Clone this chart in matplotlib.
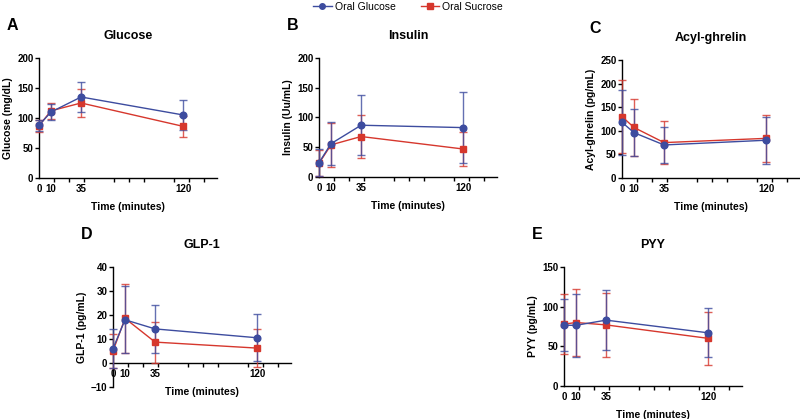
import matplotlib
matplotlib.use("Agg")
import matplotlib.pyplot as plt
from matplotlib.lines import Line2D

plt.rcParams['font.family'] = ['Liberation Sans', 'DejaVu Sans']

time = [0, 10, 35, 120]
tick_labels = ['0', '10', '35', '120']

# mean and SD per panel: (glucose drink, sucrose drink)
glucose_oral_glucose = [88, 110, 135, 105]
glucose_oral_glucose_sd = [9, 13, 25, 25]
glucose_oral_sucrose = [87, 112, 125, 86]
glucose_oral_sucrose_sd = [10, 13, 23, 18]

insulin_oral_glucose = [24, 56, 87, 83]
insulin_oral_glucose_sd = [23, 36, 50, 59]
insulin_oral_sucrose = [23, 54, 68, 47]
insulin_oral_sucrose_sd = [22, 37, 36, 28]

ghrelin_oral_glucose = [118, 96, 70, 80]
ghrelin_oral_glucose_sd = [69, 50, 38, 50]
ghrelin_oral_sucrose = [130, 107, 75, 84]
ghrelin_oral_sucrose_sd = [77, 60, 46, 50]

glp1_oral_glucose = [6, 18, 14.2, 10.5]
glp1_oral_glucose_sd = [8, 14, 10, 9.8]
glp1_oral_sucrose = [5, 18.6, 8.7, 6.2]
glp1_oral_sucrose_sd = [7, 14.5, 8.5, 8]

pyy_oral_glucose = [76.5, 76.5, 83, 67]
pyy_oral_glucose_sd = [33, 39.5, 38, 31]
pyy_oral_sucrose = [78, 80, 77, 60]
pyy_oral_sucrose_sd = [38, 42, 40, 33]

BLUE = '#3d4c9f'
RED = '#d6372d'

fig = plt.figure(figsize=(8, 4.19), dpi=100)

panels = [
    # letter, title, ylabel, glucose, glucose sd, sucrose, sucrose sd, ylim, yticks, rect
    ('A', 'Glucose', 'Glucose (mg/dL)', glucose_oral_glucose, glucose_oral_glucose_sd,
     glucose_oral_sucrose, glucose_oral_sucrose_sd, (0, 200), [0, 50, 100, 150, 200],
     [0.04875, 0.5752, 0.2225, 0.2864]),
    ('B', 'Insulin', 'Insulin (Uu/mL)', insulin_oral_glucose, insulin_oral_glucose_sd,
     insulin_oral_sucrose, insulin_oral_sucrose_sd, (0, 200), [0, 50, 100, 150, 200],
     [0.39875, 0.5776, 0.2225, 0.284]),
    ('C', 'Acyl-ghrelin', 'Acyl-ghrelin (pg/mL)', ghrelin_oral_glucose, ghrelin_oral_glucose_sd,
     ghrelin_oral_sucrose, ghrelin_oral_sucrose_sd, (0, 250), [0, 50, 100, 150, 200, 250],
     [0.7775, 0.5752, 0.2225, 0.2816]),
    ('D', 'GLP-1', 'GLP-1 (pg/mL)', glp1_oral_glucose, glp1_oral_glucose_sd,
     glp1_oral_sucrose, glp1_oral_sucrose_sd, (-10, 40), [-10, 0, 10, 20, 30, 40],
     [0.14125, 0.0764, 0.2225, 0.2864]),
    ('E', 'PYY', 'PYY (pg/mL)', pyy_oral_glucose, pyy_oral_glucose_sd,
     pyy_oral_sucrose, pyy_oral_sucrose_sd, (0, 150), [0, 50, 100, 150],
     [0.705, 0.0788, 0.2225, 0.284]),
]

minor_ticks = [12.5, 25, 37.5, 62.5, 75, 87.5, 112.5, 125, 137.5]

for letter, title, ylabel, g, g_sd, s, s_sd, ylim, yticks, rect in panels:
    ax = fig.add_axes(rect)
    for side in ['top', 'right']:
        ax.spines[side].set_visible(False)
    for side in ['left', 'bottom']:
        ax.spines[side].set_linewidth(1)
    if ylim[0] < 0:
        ax.spines['bottom'].set_position(('data', 0))
    for mean, sd, color, marker in [(s, s_sd, RED, 's'), (g, g_sd, BLUE, 'o')]:
        _, caps, bars = ax.errorbar(time, mean, yerr=sd, color=color, ecolor=color,
                                    elinewidth=1, capsize=3, capthick=1, lw=1,
                                    marker=marker, ms=4.8, clip_on=False, zorder=3)
        for c in caps:
            c.set_alpha(0.8)
        for b in bars:
            b.set_alpha(0.8)
    ax.set_xlim(0, 148)
    ax.set_ylim(*ylim)
    ax.set_yticks(yticks)
    ax.set_xticks(time)
    ax.set_xticklabels(tick_labels)
    ax.set_xticks(minor_ticks, minor=True)
    ax.tick_params(axis='x', which='major', length=0, pad=4, labelsize=7)
    ax.tick_params(axis='x', which='minor', length=3, width=1)
    ax.tick_params(axis='y', length=3, width=1, pad=1, labelsize=7)
    for lab in ax.get_xticklabels() + ax.get_yticklabels():
        lab.set_fontweight('bold')
    ax.set_ylabel(ylabel, fontsize=7.5, fontweight='bold', labelpad=3)
    ax.set_xlabel('Time (minutes)', fontsize=7.5, fontweight='bold', labelpad=6)
    ax.set_title(title, fontsize=9, fontweight='bold', pad=14)
    ax.text(-0.15, 1.27, letter, transform=ax.transAxes, fontsize=11.5,
            fontweight='bold', ha='center', va='center')

handles = [
    Line2D([], [], color=BLUE, marker='o', ms=4, lw=1),
    Line2D([], [], color=RED, marker='s', ms=4, lw=1),
]
fig.legend(handles, ['Oral Glucose', 'Oral Sucrose'], loc='center',
           bbox_to_anchor=(0.51, 0.983), ncol=2, frameon=False, fontsize=7.5,
           handlelength=1.8, handletextpad=0.3, columnspacing=2.4)

fig.savefig('out.png', dpi=100)
